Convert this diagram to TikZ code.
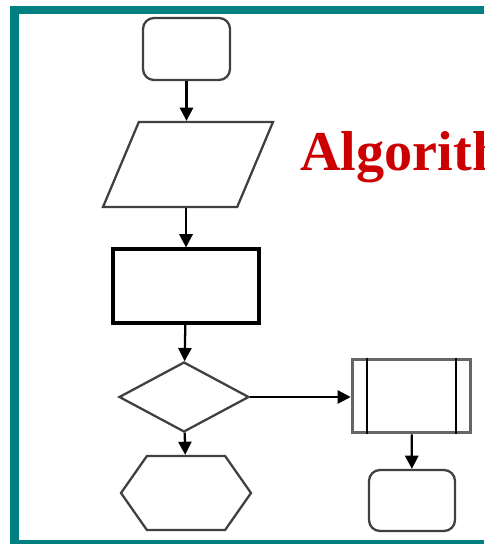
\documentclass[tikz,border=0pt]{standalone}
\usepackage{fontspec}
\setmainfont{Liberation Serif}
\usetikzlibrary{shapes,arrows.meta,positioning}

\definecolor{frameteal}{RGB}{0,128,128}
\definecolor{titlered}{RGB}{204,0,0}

\tikzset{
  box/.style={draw=black!75, line width=1.3pt, inner sep=1pt},
  flow/.style={-{Triangle[length=7.5pt,width=7.5pt]}, line width=1.3pt, black},
}

\begin{document}
\begin{tikzpicture}[x=0.2mm, y=-0.2mm]
% Page
\useasboundingbox (0,0) rectangle (484,544);
\clip (0,0) rectangle (484,544);

% Teal frame (left, top, bottom)
\fill[frameteal] (10,6) rectangle (484,14);
\fill[frameteal] (10,6) rectangle (19,544);
\fill[frameteal] (10,540) rectangle (484,544);

% Title
\node[anchor=base west, inner sep=0pt, text=titlered,
      font=\bfseries\fontsize{32}{38}\selectfont] (title) at (300,171) {Algorith};

% Main column
\node[box, rounded corners=2.2mm, minimum width=17.4mm, minimum height=12.4mm] (start) at (186.5,49) {};
\node[box, trapezium, trapezium left angle=70, trapezium right angle=110,
      trapezium stretches=true, minimum width=34mm, minimum height=17mm] (input) at (188,164.5) {};
\node[box, draw=black, line width=1.8pt, minimum width=29.2mm, minimum height=14.8mm] (process) at (186,286) {};
\node[box, diamond, minimum width=26mm, minimum height=14mm] (decide) at (184,397) {};
\node[box, signal, signal to=east and west, signal pointer angle=110,
      minimum width=26mm, minimum height=14.8mm] (prep) at (186,493) {};

% Right branch
\node[box, draw=black!60, line width=2pt, minimum width=23.6mm, minimum height=14.6mm] (sub) at (411.5,396) {};
\draw[line width=1.2pt] ([xshift=3.2mm]sub.north west) -- ([xshift=3.2mm]sub.south west);
\draw[line width=1.2pt] ([xshift=-3.2mm]sub.north east) -- ([xshift=-3.2mm]sub.south east);
\node[box, rounded corners=2.2mm, minimum width=17.2mm, minimum height=12.2mm] (stop) at (412,500.5) {};

% Arrows
\draw[flow] (start.south) -- (start.south |- input.north);
\draw[flow] (process.north |- input.south) -- (process.north);
\draw[flow] (process) -- (decide);
\draw[flow] (decide) -- (prep);
\draw[flow] (decide.east) -- (decide.east -| sub.west);
\draw[flow] (sub) -- (stop);
\end{tikzpicture}
\end{document}
